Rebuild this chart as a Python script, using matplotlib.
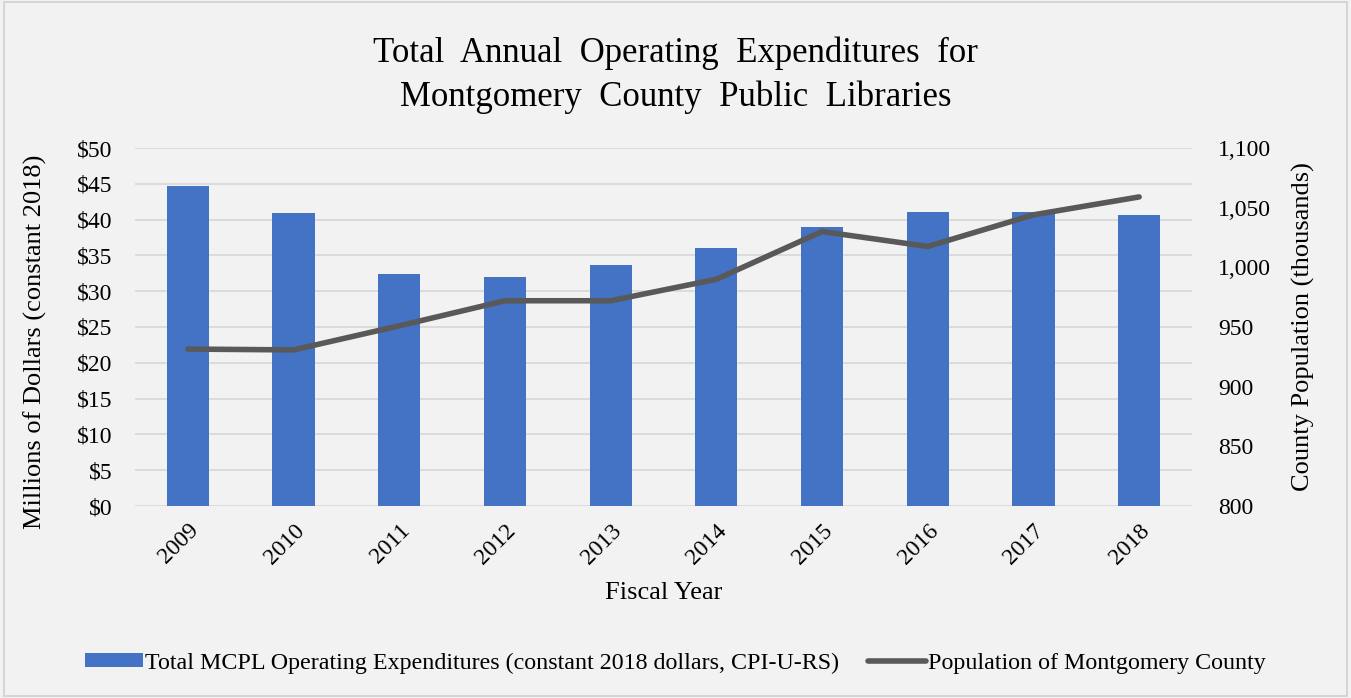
import matplotlib
matplotlib.use("Agg")
import matplotlib.pyplot as plt
from matplotlib.patches import Rectangle
from matplotlib.ticker import FuncFormatter

years = ["2009", "2010", "2011", "2012", "2013", "2014", "2015", "2016", "2017", "2018"]
expenditures = [44.7, 40.9, 32.4, 32.0, 33.6, 36.0, 39.0, 41.1, 41.0, 40.7]
population = [931.5, 930.8, 951, 972, 972, 990, 1030, 1017.5, 1044, 1059]

plt.rcParams['font.family'] = ['Liberation Serif', 'DejaVu Serif']

bg = "#F2F2F2"
fig = plt.figure(figsize=(13.51, 6.98), dpi=100, facecolor=bg)
fig.patches.append(Rectangle((0.003, 0.003), 0.994, 0.994, transform=fig.transFigure,
                             fill=False, edgecolor="#D0D0D0", linewidth=1.2))

ax = fig.add_axes([135/1351, 1 - 506/698, (1192-135)/1351, (506-148)/698])
ax.set_facecolor(bg)
x = list(range(len(years)))
bars = ax.bar(x, expenditures, width=0.4, color="#4472C4", zorder=2,
              label="Total MCPL Operating Expenditures (constant 2018 dollars, CPI-U-RS)")
ax.set_xlim(-0.5, len(years) - 0.5)
ax.set_ylim(0, 50)
ax.set_yticks(range(0, 51, 5))
ax.yaxis.set_major_formatter(FuncFormatter(lambda v, p: f"${int(v)}"))
ax.grid(axis='y', color="#D9D9D9", linewidth=1.3, zorder=0)
ax.set_axisbelow(True)
for s in ax.spines.values():
    s.set_visible(False)
ax.tick_params(axis='both', length=0, labelsize=17, colors="#000000")
ax.set_xticks(x)
ax.set_xticklabels(years, rotation=45, ha='right', rotation_mode='anchor')
ax.tick_params(axis='x', pad=10)
ax.tick_params(axis='y', pad=16)
ax.set_xlabel("Fiscal Year", fontsize=19, labelpad=10)
ax.set_ylabel("Millions of Dollars (constant 2018)", fontsize=19)
ax.yaxis.set_label_coords(-0.083, 0.46)

ax2 = ax.twinx()
line, = ax2.plot(x, population, color="#595959", linewidth=4, solid_capstyle='round', zorder=3,
                 label="Population of Montgomery County")
ax2.set_ylim(800, 1100)
ax2.set_yticks(range(800, 1101, 50))
ax2.yaxis.set_major_formatter(FuncFormatter(lambda v, p: f"{int(v):,}"))
for s in ax2.spines.values():
    s.set_visible(False)
ax2.tick_params(axis='y', length=0, labelsize=17, pad=19)
ax2.set_ylabel("County Population (thousands)", fontsize=19, labelpad=15)

fig.suptitle("Total  Annual  Operating  Expenditures  for\nMontgomery  County  Public  Libraries",
             fontsize=25, y=0.947, linespacing=1.4)

fig.legend(handles=[bars, line], loc='center', bbox_to_anchor=(0.5, 1 - 663/698),
           ncol=2, frameon=False, fontsize=17.3, handlelength=2.4, handletextpad=0.1,
           handleheight=0.55, columnspacing=1.2)

fig.savefig("out.png", dpi=100, facecolor=bg)
